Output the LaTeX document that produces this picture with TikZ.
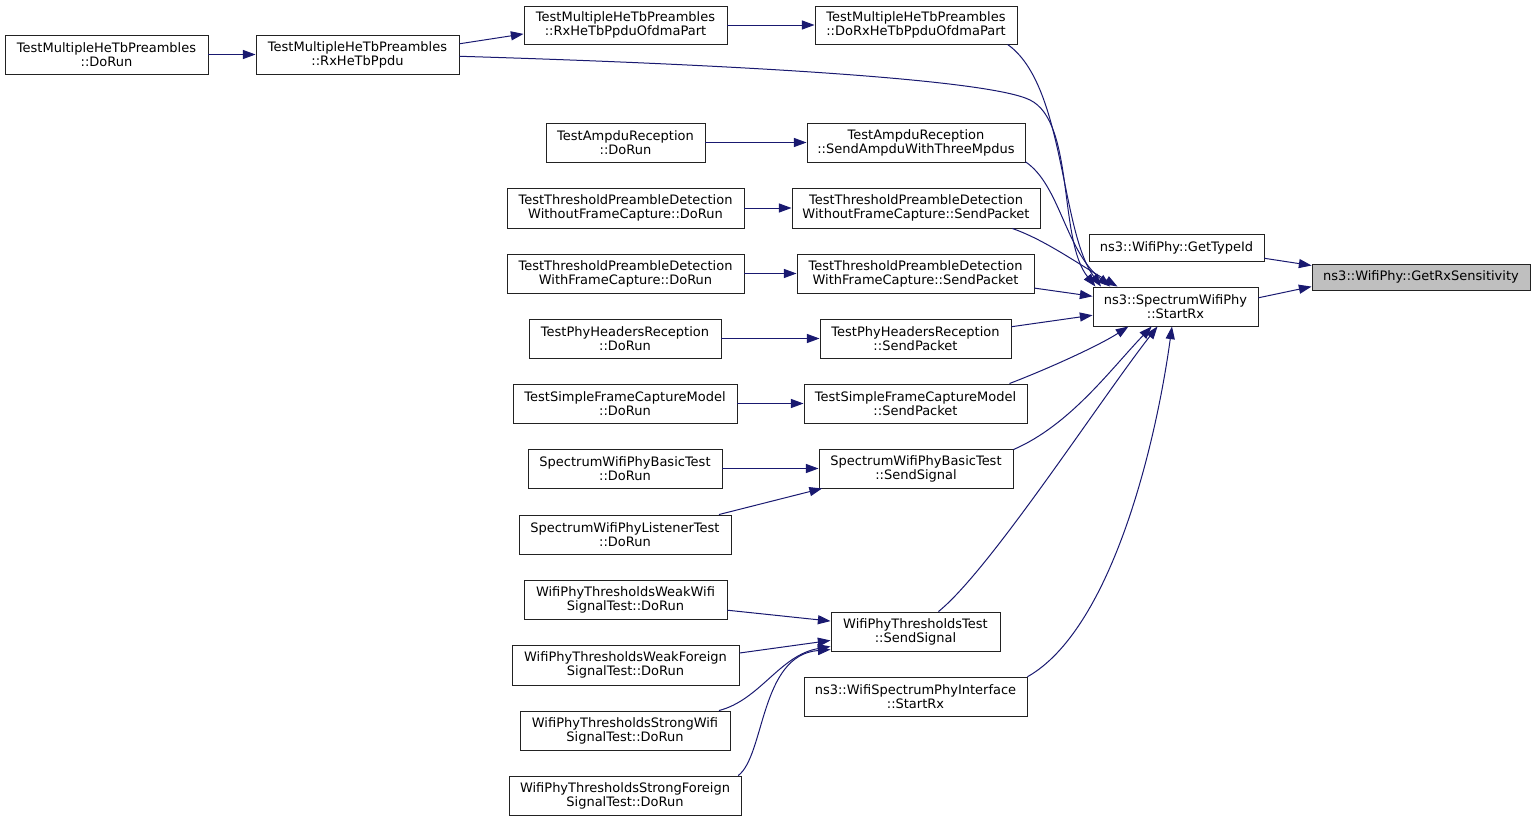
\documentclass[tikz,border=0pt]{standalone}
\usepackage{fontspec}
\setmainfont{DejaVu Sans}
\usetikzlibrary{arrows.meta}
\definecolor{edgec}{HTML}{191970}
\definecolor{grayfill}{HTML}{BFBFBF}
\definecolor{boxline}{HTML}{222222}
\tikzset{
  gbox/.style={draw=boxline, line width=0.7pt, fill=white, rectangle, inner sep=0pt, align=center,
    font=\fontsize{9.75}{10.6}\selectfont, text=black},
  edge/.style={draw=edgec, line width=0.75pt, -{Triangle[length=9.5pt,width=6.8pt]}},
}
\newcommand\mkbox[7][]{%
  \pgfmathsetmacro\bw{0.75*(#5-#3)}%
  \pgfmathsetmacro\bh{0.75*(#6-#4)}%
  \node[gbox,#1,minimum width=\bw pt,minimum height=\bh pt] (#2) at ({(#3+#5)/2},{(#4+#6)/2}) {#7};%
}
\begin{document}
\begin{tikzpicture}[x=0.75pt,y=-0.75pt]
\useasboundingbox (0,0) rectangle (1536,821);
\mkbox{A1}{5}{35}{208}{74}{TestMultipleHeTbPreambles\\::DoRun}
\mkbox{A2}{256}{35}{459}{74}{TestMultipleHeTbPreambles\\::RxHeTbPpdu}
\mkbox{A3}{524}{6}{727}{44}{TestMultipleHeTbPreambles\\::RxHeTbPpduOfdmaPart}
\mkbox{A4}{815}{6}{1017}{44}{TestMultipleHeTbPreambles\\::DoRxHeTbPpduOfdmaPart}
\mkbox{B1}{546}{123}{705}{162}{TestAmpduReception\\::DoRun}
\mkbox{B2}{807}{123}{1025}{162}{TestAmpduReception\\::SendAmpduWithThreeMpdus}
\mkbox{C1}{507}{188}{744}{228}{TestThresholdPreambleDetection\\WithoutFrameCapture::DoRun}
\mkbox{C2}{792}{188}{1040}{228}{TestThresholdPreambleDetection\\WithoutFrameCapture::SendPacket}
\mkbox{D1}{507}{254}{744}{293}{TestThresholdPreambleDetection\\WithFrameCapture::DoRun}
\mkbox{D2}{797}{254}{1034}{293}{TestThresholdPreambleDetection\\WithFrameCapture::SendPacket}
\mkbox{E1}{529}{319}{721}{358}{TestPhyHeadersReception\\::DoRun}
\mkbox{E2}{820}{319}{1011}{358}{TestPhyHeadersReception\\::SendPacket}
\mkbox{F1}{513}{384}{737}{423}{TestSimpleFrameCaptureModel\\::DoRun}
\mkbox{F2}{804}{384}{1027}{423}{TestSimpleFrameCaptureModel\\::SendPacket}
\mkbox{G1}{528}{449}{722}{488}{SpectrumWifiPhyBasicTest\\::DoRun}
\mkbox{G2}{819}{449}{1013}{488}{SpectrumWifiPhyBasicTest\\::SendSignal}
\mkbox{G3}{519}{515}{731}{554}{SpectrumWifiPhyListenerTest\\::DoRun}
\mkbox{H1}{524}{580}{727}{619}{WifiPhyThresholdsWeakWifi\\SignalTest::DoRun}
\mkbox{H2}{512}{645}{739}{685}{WifiPhyThresholdsWeakForeign\\SignalTest::DoRun}
\mkbox{H3}{520}{711}{730}{750}{WifiPhyThresholdsStrongWifi\\SignalTest::DoRun}
\mkbox{H4}{509}{776}{741}{815}{WifiPhyThresholdsStrongForeign\\SignalTest::DoRun}
\mkbox{W}{831}{612}{1000}{651}{WifiPhyThresholdsTest\\::SendSignal}
\mkbox{X}{804}{677}{1027}{716}{ns3::WifiSpectrumPhyInterface\\::StartRx}
\mkbox{S}{1093}{287}{1258}{326}{ns3::SpectrumWifiPhy\\::StartRx}
\mkbox{T}{1089}{234}{1264}{261}{ns3::WifiPhy::GetTypeId}
\mkbox[fill=grayfill]{R}{1312}{264}{1530}{290}{ns3::WifiPhy::GetRxSensitivity}

\draw[edge] (A1.east) -- (A2.west);
\draw[edge] (A2.6.5) -- (A3.185);
\draw[edge] (A3.east) -- (A4.west);
\draw[edge] (A4.-12) .. controls (1065,85) and (1060,230) .. (S.165);
\draw[edge] (A2.-1.4) .. controls (750,65) and (990,80) .. (1030,100) .. controls (1075,122) and (1058,240) .. (S.166);
\draw[edge] (B2.-10.8) .. controls (1060,185) and (1065,250) .. (S.163);
\draw[edge] (C2.-12.7) .. controls (1045,240) and (1075,262) .. (S.161);
\draw[edge] (D2.-7.5) -- (S.173.4);
\draw[edge] (E2.7.5) -- (S.186.6);
\draw[edge] (F2.12.6) .. controls (1050,368) and (1100,345) .. (S.203);
\draw[edge] (G2.11) .. controls (1070,425) and (1110,370) .. (S.220);
\draw[edge] (W.41) .. controls (990,570) and (1100,400) .. (S.228);
\draw[edge] (X.10.8) .. controls (1110,630) and (1155,450) .. (S.260);
\draw[edge] (T.-7.5) -- (R.174.2);
\draw[edge] (S.6.6) -- (R.185.8);
\draw[edge] (B1.east) -- (B2.west);
\draw[edge] (C1.east) -- (C2.west);
\draw[edge] (D1.east) -- (D2.west);
\draw[edge] (E1.east) -- (E2.west);
\draw[edge] (F1.east) -- (F2.west);
\draw[edge] (G1.east) -- (G2.west);
\draw[edge] (G3.12.1) -- (G2.192.2);
\draw[edge] (H1.-6.5) -- (W.173.6);
\draw[edge] (H2.6.5) -- (W.186.4);
\draw[edge] (H3.12.5) .. controls (760,700) and (780,655) .. (W.190.4);
\draw[edge] (H4.10.8) .. controls (765,755) and (760,655) .. (W.192.4);
\end{tikzpicture}
\end{document}
